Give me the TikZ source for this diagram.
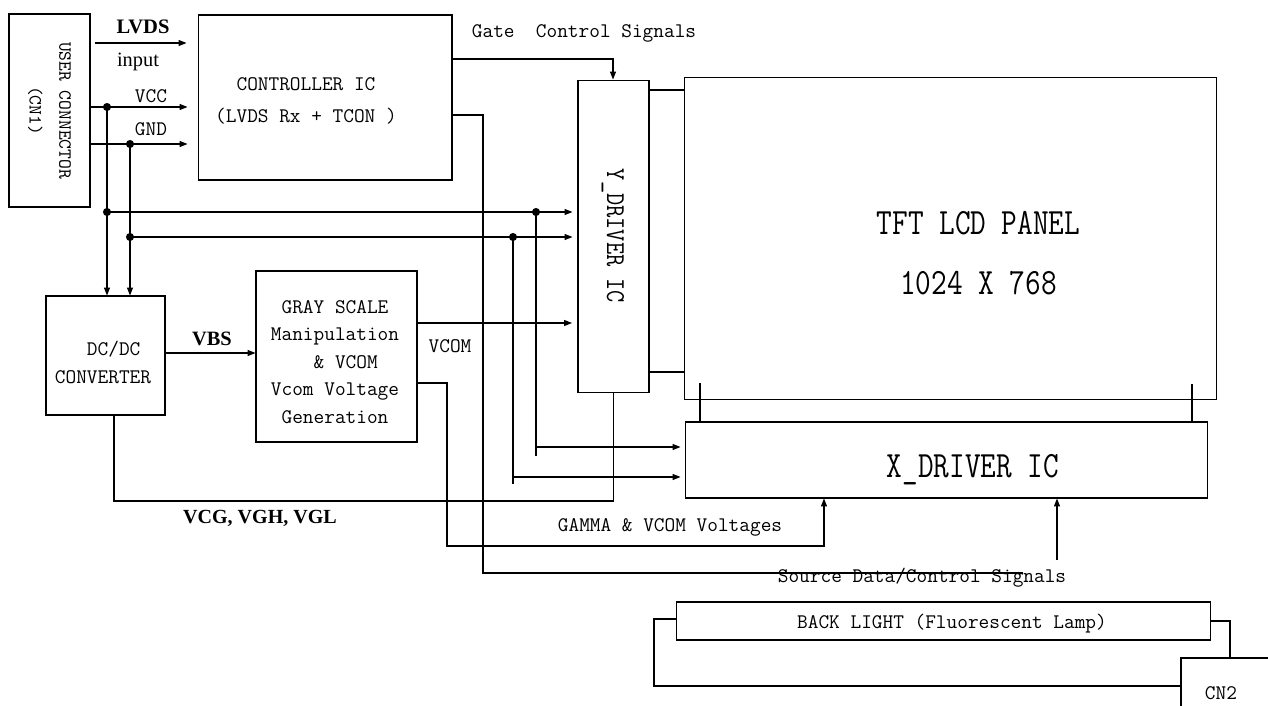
\documentclass[tikz,border=0pt]{standalone}
\usepackage{fontspec}
\newfontfamily\timesfont{Liberation Serif}
\usetikzlibrary{arrows.meta,positioning}

\tikzset{
  blk/.style={draw,line width=0.6pt,inner sep=0pt},
  wire/.style={line width=0.6pt},
  sig/.style={wire,-{Triangle[length=4.5pt,width=3.4pt]}},
  mono/.style={font=\fontsize{11.8}{15.6}\selectfont\ttfamily,inner sep=0pt},
  big/.style={font=\fontsize{17.3}{34}\selectfont\ttfamily,inner sep=0pt},
  tms/.style={font=\fontsize{11.6}{14}\selectfont\timesfont,inner sep=0pt},
}

\begin{document}
\begin{tikzpicture}[x=0.02cm,y=-0.02cm]
\useasboundingbox (0,0) rectangle (1268,706);
\clip (0,0) rectangle (1268,706);

% blocks
\node[blk,line width=1.2pt,minimum width=1.62cm,minimum height=3.86cm] (user) at (49.5,110.5) {};
\node[mono,font=\fontsize{10.6}{17}\selectfont\ttfamily,rotate=-90,align=center] (user-t) at (user.center) {USER CONNECTOR\\(CN1)};
\node[blk,minimum width=5.08cm,minimum height=3.3cm] (ctrl) at (325,97.5) {};
\node[mono,align=center] (ctrl-t) at (306,101) {CONTROLLER IC\\[2.6pt](LVDS Rx + TCON )};
\node[blk,minimum width=1.42cm,minimum height=6.26cm] (ydrv) at (613.5,236.5) {};
\node[mono,font=\fontsize{13.5}{16}\selectfont\ttfamily,rotate=-90] (ydrv-t) at (613,236) {\scalebox{1}[1.15]{Y\_DRIVER IC}};
\node[blk,minimum width=10.66cm,minimum height=6.46cm] (panel) at (950.5,238.5) {};
\node[big,align=center] (panel-t) at (978.5,253) {\scalebox{1}[1.22]{TFT LCD PANEL}\\\scalebox{1}[1.22]{1024 X 768}};
\node[blk,minimum width=10.46cm,minimum height=1.52cm] (xdrv) at (946.5,460) {};
\node[big] (xdrv-t) at (973,470) {\scalebox{1}[1.22]{X\_DRIVER IC}};
\node[blk,minimum width=2.38cm,minimum height=2.38cm] (dcdc) at (105.5,355.5) {};
\node[mono,align=center] (dcdc-t) at (103,362.5) {\ \ DC/DC\\CONVERTER};
\node[blk,minimum width=3.22cm,minimum height=3.42cm] (gray) at (336.5,356.5) {};
\node[mono,align=center] (gray-t) at (335,362) {GRAY SCALE\\Manipulation\\\ \ \& VCOM\\Vcom Voltage\\Generation};
\node[blk,minimum width=10.7cm,minimum height=0.76cm] (bl) at (943.5,621) {};
\node[mono] (bl-t) at (952,624) {BACK LIGHT (Fluorescent Lamp)};
\node[blk,minimum width=2.18cm,minimum height=1.44cm] (cn2) at (1235.5,694) {};
\node[mono] (cn2-t) at (1221,693) {CN2};

% junctions and bends
\coordinate (lvds) at (95,43);
\coordinate (vcc) at (107,107);
\coordinate (gnd) at (130,144);
\coordinate (vb) at (107,212);
\coordinate (gb) at (130,237);
\coordinate (vy) at (536,212);
\coordinate (gy) at (513,237);
\coordinate (vx) at (536,447);
\coordinate (vxe) at (536,456);
\coordinate (gx) at (513,477);
\coordinate (gxe) at (513,484);
\coordinate (gate) at (613,59);
\coordinate (src) at (483,115);
\coordinate (srcend) at (1023,573);
\coordinate (srcup) at (1057,560);
\coordinate (vcom) at (572,323);
\coordinate (gam1) at (447,383);
\coordinate (gam2) at (824,546);
\coordinate (vbs) at (0,353);
\coordinate (vcg) at (114,501);
\coordinate (yp1) at (0,90);
\coordinate (yp2) at (0,372);
\coordinate (tk1) at (700,383);
\coordinate (tk2) at (1192,384);
\coordinate (blr) at (1230,621);
\coordinate (bll) at (654,619);
\coordinate (bld) at (654,686);

% user connector outputs
\draw[sig,shorten >=0.22cm] (lvds) -- (lvds -| ctrl.west);
\draw[sig,shorten >=0.2cm] (vcc -| user.east) -- (vcc -| ctrl.west);
\draw[sig,shorten >=0.2cm] (gnd -| user.east) -- (gnd -| ctrl.west);
\draw[sig] (vcc) -- (vcc |- dcdc.north);
\draw[sig] (gnd) -- (gnd |- dcdc.north);
\draw[sig,shorten >=0.1cm] (vb) -- (vb -| ydrv.west);
\draw[sig,shorten >=0.1cm] (gb) -- (gb -| ydrv.west);
\draw[wire] (vy) -- (vxe);
\draw[wire] (gy) -- (gxe);
\draw[sig,shorten >=0.08cm] (vx) -- (vx -| xdrv.west);
\draw[sig,shorten >=0.08cm] (gx) -- (gx -| xdrv.west);
\foreach \p in {vcc,gnd,vb,gb,vy,gy}
  \fill (\p) circle (2.3pt);

% controller outputs
\draw[sig] (gate -| ctrl.east) -- (gate) -- (gate |- ydrv.north);
\draw[wire] (src -| ctrl.east) -- (src) |- (srcend);
\draw[sig] (srcup) -- (srcup |- xdrv.south);

% power and gray scale
\draw[sig] (vbs -| dcdc.east) -- (vbs -| gray.west);
\draw[sig] (vcom -| gray.east) -- (vcom);
\draw[sig] (gam1 -| gray.east) -- (gam1) |- (gam2) -- (gam2 |- xdrv.south);
\draw[wire] (vcg |- dcdc.south) -- (vcg) -| (ydrv.south);

% panel links
\draw[wire] (yp1 -| ydrv.east) -- (yp1 -| panel.west);
\draw[wire] (yp2 -| ydrv.east) -- (yp2 -| panel.west);
\draw[wire] (tk1) -- (tk1 |- xdrv.north);
\draw[wire] (tk2) -- (tk2 |- xdrv.north);

% back light
\draw[wire] (blr -| bl.east) -- (blr) -- (blr |- cn2.north);
\draw[wire] (bll -| bl.west) -- (bll) |- (bld -| cn2.west);

% labels
\node[tms,font=\fontsize{11.7}{14}\selectfont\timesfont\bfseries] (lvds-l) at (143,27) {LVDS};
\node[tms] (input-l) at (138,62) {input};
\node[mono] (vcc-l) at (151,96) {VCC};
\node[mono] (gnd-l) at (151,129) {GND};
\node[mono] (gate-l) at (584,33) {Gate\ \ Control Signals};
\node[mono] (vcom-l) at (450,346) {VCOM};
\node[tms,font=\fontsize{11.6}{14}\selectfont\timesfont\bfseries] (vbs-l) at (212,339) {VBS};
\node[tms,font=\fontsize{11.4}{14}\selectfont\timesfont\bfseries] (vcg-l) at (260,518) {VCG, VGH, VGL};
\node[mono] (gam-l) at (670,527) {GAMMA \& VCOM Voltages};
\node[mono] (src-l) at (922,578) {Source Data/Control Signals};
\end{tikzpicture}
\end{document}
